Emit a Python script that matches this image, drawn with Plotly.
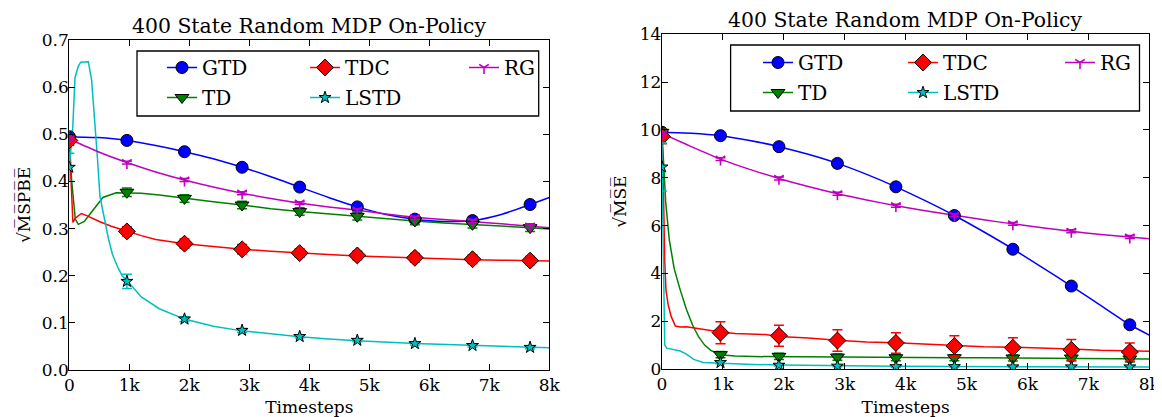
import plotly.graph_objects as go

W, H = 1162, 417
OFF = 8  # the page body margin of the browser
FW, FH = W - OFF, H - OFF
FONT = "DejaVu Serif"

TITLE = "400 State Random MDP On-Policy"
X_TICK_VALS = [0, 1000, 2000, 3000, 4000, 5000, 6000, 7000, 8000]
X_TICK_TEXT = ["0", "1k", "2k", "3k", "4k", "5k", "6k", "7k", "8k"]
X_LABEL = "Timesteps"
Y_LABEL_LEFT = "√M̅S̅P̅B̅E̅"
Y_LABEL_RIGHT = "√M̅S̅E̅"

NAMES = ["GTD", "TD", "TDC", "LSTD", "RG"]

# marker (error-bar) positions
MARK_X = [0, 960, 1920, 2880, 3840, 4800, 5760, 6720, 7680]

# ---------------- left panel: sqrt(MSPBE) ----------------
GTD_L_X = [0, 480, 960, 1440, 1920, 2400, 2880, 3360, 3840, 4320, 4800, 5280, 5760, 6240, 6720, 7200, 7680, 8000]
GTD_L_Y = [0.495, 0.493, 0.487, 0.476, 0.463, 0.448, 0.430, 0.410, 0.388, 0.366, 0.346, 0.330, 0.320, 0.315, 0.317, 0.330, 0.351, 0.366]
RG_L_X = [0, 480, 960, 1440, 1920, 2400, 2880, 3360, 3840, 4320, 4800, 5280, 5760, 6240, 6720, 7200, 7680, 8000]
RG_L_Y = [0.490, 0.463, 0.440, 0.420, 0.403, 0.388, 0.375, 0.364, 0.354, 0.346, 0.339, 0.331, 0.324, 0.319, 0.315, 0.310, 0.305, 0.302]
TD_L_X = [0, 40, 100, 150, 250, 400, 560, 780, 960, 1200, 1500, 1920, 2400, 2880, 3360, 3840, 4320, 4800, 5280, 5760, 6240, 6720, 7200, 7680, 8000]
TD_L_Y = [0.490, 0.400, 0.320, 0.309, 0.315, 0.340, 0.366, 0.376, 0.376, 0.375, 0.371, 0.364, 0.357, 0.350, 0.342, 0.336, 0.331, 0.326, 0.320, 0.316, 0.312, 0.309, 0.306, 0.302, 0.299]
TDC_L_X = [0, 30, 60, 100, 200, 300, 500, 700, 960, 1200, 1440, 1920, 2400, 2880, 3360, 3840, 4320, 4800, 5280, 5760, 6240, 6720, 7200, 7680, 8000]
TDC_L_Y = [0.487, 0.400, 0.313, 0.322, 0.332, 0.327, 0.315, 0.305, 0.294, 0.285, 0.277, 0.268, 0.262, 0.256, 0.252, 0.248, 0.245, 0.242, 0.240, 0.237, 0.236, 0.234, 0.233, 0.232, 0.231]
LSTD_L_X = [0, 30, 56, 95, 150, 190, 317, 372, 428, 467, 511, 556, 600, 650, 720, 800, 880, 960, 1200, 1500, 1920, 2400, 2880, 3360, 3840, 4320, 4800, 5760, 6720, 7680, 8000]
LSTD_L_Y = [0.430, 0.470, 0.510, 0.620, 0.644, 0.653, 0.654, 0.615, 0.530, 0.453, 0.368, 0.340, 0.310, 0.280, 0.245, 0.220, 0.200, 0.190, 0.155, 0.130, 0.108, 0.093, 0.083, 0.076, 0.0705, 0.066, 0.062, 0.056, 0.0515, 0.048, 0.047]

GTD_L_MK = [0.495, 0.487, 0.463, 0.430, 0.388, 0.346, 0.320, 0.317, 0.351]
GTD_L_ERR = [0.003, 0.003, 0.003, 0.003, 0.003, 0.003, 0.003, 0.003, 0.003]
TD_L_MK = [0.490, 0.377, 0.364, 0.350, 0.336, 0.326, 0.316, 0.309, 0.302]
TD_L_ERR = [0.010, 0.009, 0.008, 0.008, 0.008, 0.008, 0.008, 0.008, 0.008]
TDC_L_MK = [0.487, 0.294, 0.268, 0.256, 0.248, 0.243, 0.238, 0.235, 0.232]
TDC_L_ERR = [0.010, 0.010, 0.010, 0.010, 0.009, 0.009, 0.009, 0.009, 0.009]
LSTD_L_MK = [0.430, 0.188, 0.108, 0.084, 0.071, 0.063, 0.056, 0.052, 0.048]
LSTD_L_ERR = [0.030, 0.015, 0.005, 0.004, 0.003, 0.003, 0.003, 0.003, 0.003]
RG_L_MK = [0.490, 0.440, 0.403, 0.375, 0.354, 0.339, 0.323, 0.316, 0.305]
RG_L_ERR = [0.003, 0.003, 0.003, 0.003, 0.003, 0.003, 0.003, 0.003, 0.003]

# ---------------- right panel: sqrt(MSE) ----------------
GTD_R_X = [0, 480, 960, 1440, 1920, 2400, 2880, 3360, 3840, 4320, 4800, 5280, 5760, 6240, 6720, 7200, 7680, 8000]
GTD_R_Y = [9.90, 9.86, 9.76, 9.56, 9.30, 8.98, 8.60, 8.14, 7.62, 7.04, 6.42, 5.74, 5.02, 4.25, 3.47, 2.66, 1.85, 1.42]
RG_R_X = [0, 480, 960, 1440, 1920, 2400, 2880, 3360, 3840, 4320, 4800, 5280, 5760, 6240, 6720, 7200, 7680, 8000]
RG_R_Y = [9.85, 9.30, 8.78, 8.35, 7.97, 7.63, 7.33, 7.07, 6.83, 6.62, 6.43, 6.24, 6.07, 5.91, 5.76, 5.63, 5.52, 5.45]
TD_R_X = [0, 22, 60, 120, 200, 300, 400, 500, 600, 700, 800, 960, 1200, 1500, 1920, 2400, 2880, 3360, 3840, 4320, 4800, 5280, 5760, 6240, 6720, 7200, 7680, 8000]
TD_R_Y = [9.90, 8.70, 7.00, 5.40, 4.20, 3.30, 2.50, 1.85, 1.35, 1.00, 0.78, 0.60, 0.54, 0.52, 0.51, 0.50, 0.49, 0.48, 0.48, 0.47, 0.47, 0.47, 0.46, 0.46, 0.45, 0.44, 0.43, 0.42]
TDC_R_X = [0, 20, 45, 65, 100, 150, 220, 300, 400, 560, 780, 960, 1200, 1440, 1700, 1920, 2400, 2880, 3360, 3840, 4320, 4800, 5280, 5760, 6240, 6720, 7200, 7680, 8000]
TDC_R_Y = [9.72, 8.00, 4.50, 3.30, 2.70, 2.20, 1.80, 1.76, 1.77, 1.70, 1.62, 1.55, 1.49, 1.47, 1.44, 1.36, 1.30, 1.20, 1.13, 1.10, 1.04, 0.97, 0.93, 0.91, 0.88, 0.84, 0.78, 0.75, 0.74]
LSTD_R_X = [0, 20, 45, 77, 240, 300, 400, 520, 680, 960, 1500, 1920, 2880, 3840, 4800, 5760, 6720, 8000]
LSTD_R_Y = [8.45, 5.00, 1.00, 0.87, 0.80, 0.75, 0.62, 0.40, 0.27, 0.24, 0.19, 0.17, 0.13, 0.11, 0.10, 0.095, 0.09, 0.08]

GTD_R_MK = [9.90, 9.76, 9.30, 8.60, 7.62, 6.42, 5.01, 3.47, 1.85]
GTD_R_ERR = [0.03, 0.03, 0.03, 0.03, 0.03, 0.03, 0.03, 0.03, 0.03]
TD_R_MK = [9.90, 0.60, 0.53, 0.50, 0.47, 0.47, 0.46, 0.46, 0.42]
TD_R_ERR = [0.15, 0.13, 0.13, 0.13, 0.13, 0.13, 0.13, 0.13, 0.13]
TDC_R_MK = [9.72, 1.52, 1.39, 1.19, 1.09, 0.96, 0.89, 0.80, 0.71]
TDC_R_ERR = [0.30, 0.46, 0.44, 0.45, 0.43, 0.43, 0.42, 0.43, 0.38]
LSTD_R_MK = [8.45, 0.27, 0.16, 0.12, 0.10, 0.10, 0.09, 0.09, 0.09]
LSTD_R_ERR = [1.00, 0.05, 0.03, 0.03, 0.03, 0.03, 0.03, 0.03, 0.03]
RG_R_MK = [9.85, 8.78, 7.97, 7.33, 6.83, 6.43, 6.07, 5.76, 5.52]
RG_R_ERR = [0.06, 0.06, 0.06, 0.06, 0.06, 0.06, 0.06, 0.06, 0.06]

STYLE = {
    "GTD": dict(color="#0000ff", symbol="circle", size=12, lw=1),
    "TD": dict(color="#008000", symbol="triangle-down", size=12, lw=1),
    "TDC": dict(color="#ff0000", symbol="diamond", size=13, lw=1),
    "LSTD": dict(color="#00bfbf", symbol="star", size=9, lw=1),
    "RG": dict(color="#bf00bf", symbol="y-down", size=8, lw=1.6),
}

LEFT = dict(
    GTD=(GTD_L_X, GTD_L_Y, GTD_L_MK, GTD_L_ERR),
    TD=(TD_L_X, TD_L_Y, TD_L_MK, TD_L_ERR),
    TDC=(TDC_L_X, TDC_L_Y, TDC_L_MK, TDC_L_ERR),
    LSTD=(LSTD_L_X, LSTD_L_Y, LSTD_L_MK, LSTD_L_ERR),
    RG=(RG_L_X, RG_L_Y, RG_L_MK, RG_L_ERR),
)
RIGHT = dict(
    GTD=(GTD_R_X, GTD_R_Y, GTD_R_MK, GTD_R_ERR),
    TD=(TD_R_X, TD_R_Y, TD_R_MK, TD_R_ERR),
    TDC=(TDC_R_X, TDC_R_Y, TDC_R_MK, TDC_R_ERR),
    LSTD=(LSTD_R_X, LSTD_R_Y, LSTD_R_MK, LSTD_R_ERR),
    RG=(RG_R_X, RG_R_Y, RG_R_MK, RG_R_ERR),
)

SMOOTH = {"GTD", "RG"}


def marker_dict(st):
    if st["symbol"] == "y-down":
        return dict(symbol=st["symbol"], size=st["size"], color=st["color"],
                    line=dict(color=st["color"], width=st["lw"]))
    return dict(symbol=st["symbol"], size=st["size"], color=st["color"],
                line=dict(color="black", width=st["lw"]))


fig = go.Figure()

# row layout of the matplotlib 3-column legend
LEGEND_ROWS_LEFT = {"GTD": "legend", "TDC": "legend", "RG": "legend", "TD": "legend2", "LSTD": "legend2"}
LEGEND_ROWS_RIGHT = {"GTD": "legend3", "TDC": "legend3", "RG": "legend3", "TD": "legend4", "LSTD": "legend4"}
# legend column widths (first and second column) per panel
COLW_LEFT = {"GTD": 98, "TD": 98, "TDC": 114, "LSTD": 114, "RG": 60}
COLW_RIGHT = {"GTD": 100, "TD": 100, "TDC": 112, "LSTD": 112, "RG": 60}

for data, xa, ya, legmap, colw in ((LEFT, "x", "y", LEGEND_ROWS_LEFT, COLW_LEFT),
                                   (RIGHT, "x2", "y2", LEGEND_ROWS_RIGHT, COLW_RIGHT)):
    for name in NAMES:
        lx, ly, my, me = data[name]
        st = STYLE[name]
        fig.add_trace(go.Scatter(
            x=lx, y=ly, mode="lines", xaxis=xa, yaxis=ya, showlegend=False,
            line=dict(color=st["color"], width=1.5, shape="spline" if name in SMOOTH else "linear",
                      smoothing=0.6),
            hoverinfo="skip"))
    for name in NAMES:
        lx, ly, my, me = data[name]
        st = STYLE[name]
        fig.add_trace(go.Scatter(
            x=MARK_X, y=my, mode="markers", xaxis=xa, yaxis=ya, showlegend=False,
            marker=marker_dict(st),
            error_y=dict(type="data", array=me, visible=True, color=st["color"], thickness=1.5, width=5)))
    for name in ["GTD", "TDC", "RG", "TD", "LSTD"]:
        st = STYLE[name]
        fig.add_trace(go.Scatter(
            x=[None], y=[None], mode="lines+markers", name=name, xaxis=xa, yaxis=ya,
            legend=legmap[name], legendwidth=colw[name], line=dict(color=st["color"], width=1.5),
            marker=marker_dict(st)))


def px(x):
    return (x - OFF) / FW


def py(y):
    return 1 - (y - OFF) / FH


axis_common = dict(
    showline=True, linecolor="black", linewidth=1.3, mirror="ticks",
    ticks="inside", ticklen=6, tickwidth=1.3, tickcolor="black",
    showgrid=False, zeroline=False, automargin=False,
    tickfont=dict(family=FONT, size=17, color="black"),
)

fig.update_layout(
    width=FW, height=FH,
    margin=dict(l=0, r=0, t=0, b=0, autoexpand=False),
    paper_bgcolor="white", plot_bgcolor="white",
    font=dict(family=FONT, size=17, color="black"),
    xaxis=dict(domain=[px(69.3), px(549.3)], range=[0, 8000], anchor="y",
               tickvals=X_TICK_VALS, ticktext=X_TICK_TEXT, ticklabelstandoff=-1,
               title=dict(text=X_LABEL, font=dict(family=FONT, size=17), standoff=8), **axis_common),
    yaxis=dict(domain=[py(370), py(40)], range=[0, 0.7], anchor="x", dtick=0.1, tickformat=".1f",
               ticklabelstandoff=-4,
               title=dict(text=Y_LABEL_LEFT, font=dict(family=FONT, size=17), standoff=6), **axis_common),
    xaxis2=dict(domain=[px(662), px(1149.3)], range=[0, 8000], anchor="y2",
                tickvals=X_TICK_VALS, ticktext=X_TICK_TEXT, ticklabelstandoff=-1,
                title=dict(text=X_LABEL, font=dict(family=FONT, size=17), standoff=8), **axis_common),
    yaxis2=dict(domain=[py(369), py(34.3)], range=[0, 14], anchor="x2", dtick=2,
                ticklabelstandoff=-4,
                title=dict(text=Y_LABEL_RIGHT, font=dict(family=FONT, size=17), standoff=8), **axis_common),
    showlegend=True,
)

leg_common = dict(orientation="h", xanchor="left", yanchor="middle", bgcolor="rgba(0,0,0,0)",
                  borderwidth=0, font=dict(family=FONT, size=20, color="black"),
                  traceorder="normal", itemclick=False, itemdoubleclick=False)
fig.update_layout(
    legend=dict(x=px(162), y=py(67.5), **leg_common),
    legend2=dict(x=px(162), y=py(97.5), **leg_common),
    legend3=dict(x=px(758), y=py(62.5), **leg_common),
    legend4=dict(x=px(758), y=py(92.5), **leg_common),
)

# legend frames
for (x0, x1, y0, y1) in ((137, 538.7, 51, 116), (730.6, 1139.5, 45, 111)):
    fig.add_shape(type="rect", xref="paper", yref="paper",
                  x0=px(x0), x1=px(x1), y0=py(y1), y1=py(y0),
                  line=dict(color="black", width=1.3), fillcolor="white", layer="above")

# subplot titles
for cx, top in (((69.3 + 549.3) / 2, 40), ((662 + 1149.3) / 2, 34.3)):
    fig.add_annotation(text=TITLE, xref="paper", yref="paper", x=px(cx), y=py(top),
                       xanchor="center", yanchor="bottom", yshift=0, showarrow=False,
                       font=dict(family=FONT, size=20.4, color="black"))

fig.write_html("out.html")
